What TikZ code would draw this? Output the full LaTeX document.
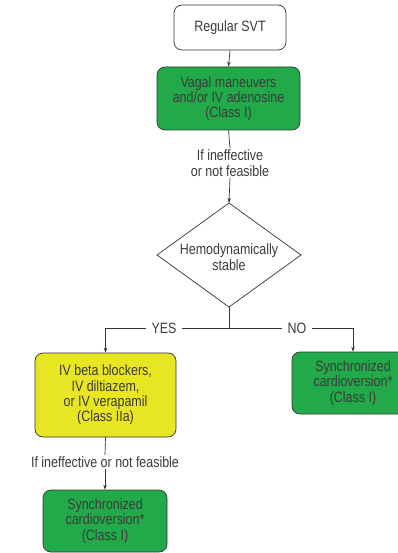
\documentclass[tikz,border=0pt]{standalone}
\usepackage{fontspec}
\setmainfont{Liberation Sans}[FakeStretch=0.83]
\usetikzlibrary{shapes.geometric,arrows.meta}
\definecolor{txt}{HTML}{3A3A3A}
\definecolor{gfill}{HTML}{22AA4A}
\definecolor{yfill}{HTML}{E8E622}
\definecolor{edge}{HTML}{333333}
\tikzset{
  box/.style={draw=edge, line width=0.7pt, rounded corners=8pt, align=center, text=txt, inner sep=2pt},
  lbl/.style={align=center, text=txt, inner sep=1.5pt},
  conn/.style={draw=edge, line width=0.7pt},
  arr/.style={conn, -{Stealth[length=5pt,width=3.5pt]}},
}
\begin{document}
\begin{tikzpicture}[x=1pt,y=-1pt, font=\fontsize{15}{15.3}\selectfont]
\clip (0,0) rectangle (398,553);
\useasboundingbox (0,0) rectangle (398,553);
\node[box, fill=white, minimum width=112pt, minimum height=45pt] (svt) at (230,27.5) {Regular SVT};
\node[box, fill=gfill, minimum width=143pt, minimum height=63pt] (vagal) at (228.5,98.5) {Vagal maneuvers\\and/or IV adenosine\\(Class I)};
\node[lbl] (l1) at (230,163) {If ineffective\\or not feasible};
\coordinate (hdN) at (229,203);
\coordinate (hdE) at (301,255);
\coordinate (hdS) at (229,307);
\coordinate (hdW) at (157,255);
\draw[conn, line join=miter] (hdN) -- (hdE) -- (hdS) -- (hdW) -- cycle;
\node[lbl] (hd) at (229,257) {Hemodynamically\\stable};
\coordinate (j) at (229,328);
\node[lbl, inner sep=5pt] (yes) at (164,328) {YES};
\node[lbl, inner sep=5pt] (no) at (297,328) {NO};
\node[box, fill=yfill, minimum width=141pt, minimum height=84pt] (yel) at (105.5,395) {IV beta blockers,\\IV diltiazem,\\or IV verapamil\\(Class IIa)};
\node[box, fill=gfill, minimum width=122pt, minimum height=62pt] (rcv) at (353,383) {Synchronized\\cardioversion*\\(Class I)};
\node[lbl] (l2) at (105,462) {If ineffective or not feasible};
\node[box, fill=gfill, minimum width=124pt, minimum height=62pt] (bcv) at (105,521) {Synchronized\\cardioversion*\\(Class I)};
\draw[arr] (svt.south) -- (vagal.north);
\draw[conn] (vagal.south) -- (l1.north);
\draw[arr] (l1.south) -- (hdN);
\draw[conn] (hdS) -- (j);
\draw[conn] (j) -- (yes.east);
\draw[arr] (yes.west) -| (yel.north);
\draw[conn] (j) -- (no.west);
\draw[arr] (no.east) -| (rcv.north);
\draw[conn] (yel.south) -- (l2.north);
\draw[arr] (l2.south) -- (bcv.north);
\end{tikzpicture}
\end{document}
